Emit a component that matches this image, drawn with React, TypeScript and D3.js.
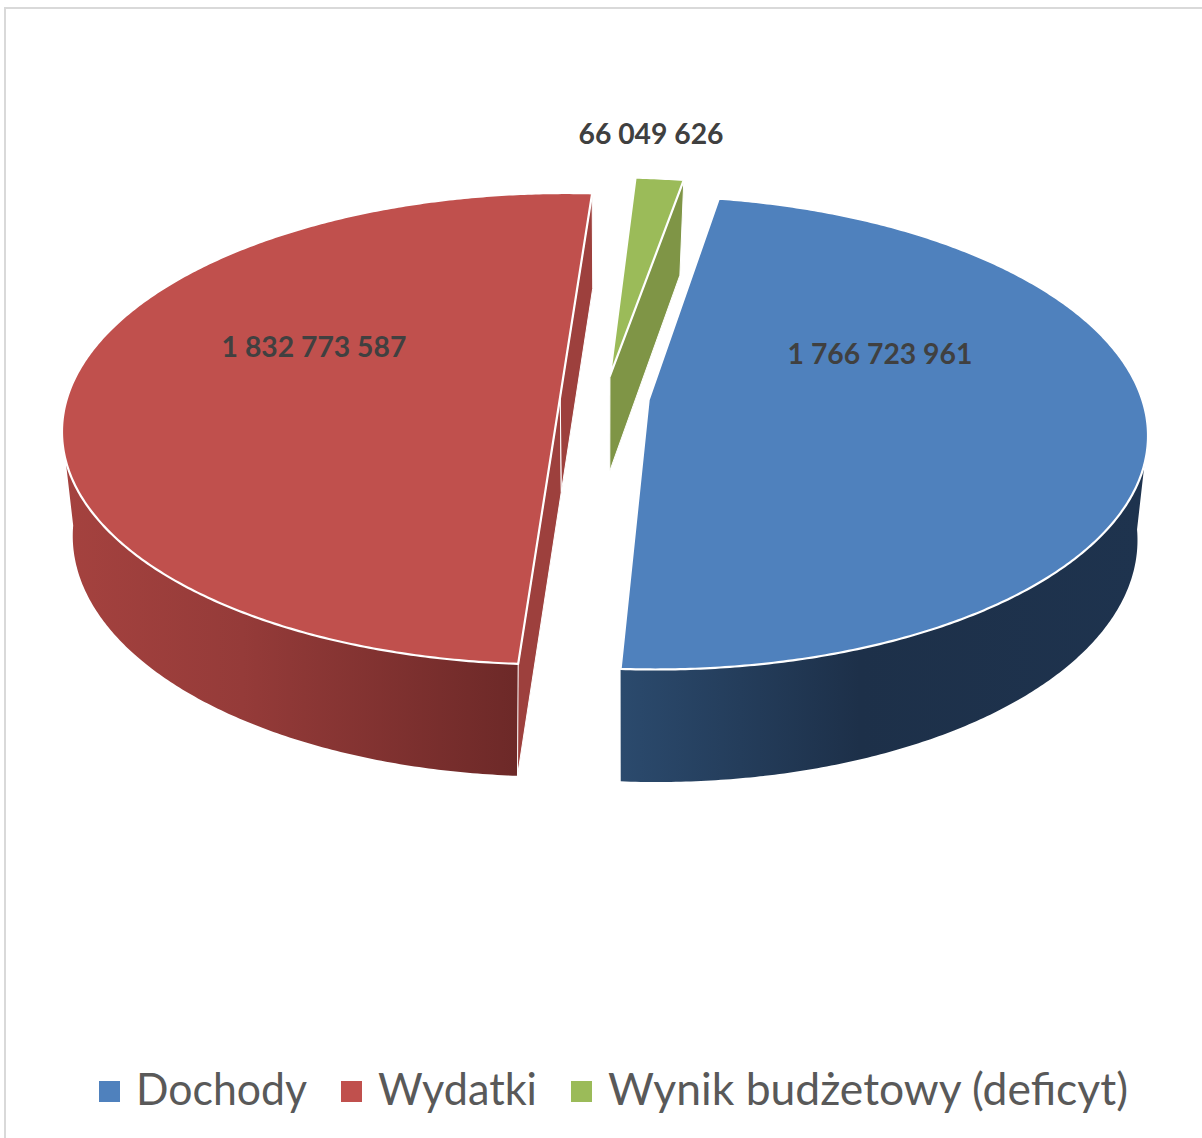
import * as d3 from 'd3';

const names = ['Dochody', 'Wydatki', 'Wynik budżetowy (deficyt)'];
const values = [1766723961, 1832773587, 66049626];
const valueLabels = ['1 766 723 961', '1 832 773 587', '66 049 626'];
const colors = ['#4f81bd', '#c0504d', '#9bbb59'];
const faceColors = ['#2b4a6d', '#9d403d', '#7f9546'];
const explodes = [0.09, 0.09, 0.095];
const legendX = [99, 341, 571];
const legendWidths = [171, 159, 520];

const W = 1202, H = 1138;
const deg = Math.PI / 180;
const vx = 604.5; // x of the vanishing axis
const startDeg = 10;

// one homography per plane of the disc
const topPlane = { cy: 397.5, R: 493, S: 231.6, k: 0.138 };
const botPlane = { cy: 493, R: 481, S: 238, k: 0.166 };
type Plane = typeof topPlane;
type Pt = [number, number];

function project(p: Plane, X: number, Y: number): Pt {
  const w = 1 + p.k * Y;
  return [vx + (p.R * X) / w, p.cy - (p.S * Y) / w];
}

const pie = d3.pie<number>().sort(null).startAngle(startDeg * deg).endAngle(startDeg * deg + 2 * Math.PI);
const arcs = pie(values);
const line = d3.line();

function sampleAngles(a0: number, a1: number) {
  const n = Math.max(2, Math.ceil((a1 - a0) / (0.5 * deg)));
  return d3.range(n + 1).map((i) => a0 + ((a1 - a0) * i) / n);
}

export default function App() {
  const slices = arcs.map((a, i) => {
    const mid = (a.startAngle + a.endAngle) / 2;
    const ox = explodes[i] * Math.sin(mid), oy = explodes[i] * Math.cos(mid);
    const at = (p: Plane, ang: number) => project(p, ox + Math.sin(ang), oy + Math.cos(ang));
    const apex = (p: Plane) => project(p, ox, oy);
    const angs = sampleAngles(a.startAngle, a.endAngle);
    const top = line([apex(topPlane), ...angs.map((t) => at(topPlane, t))])! + 'Z';
    // outer wall only on the part of the rim facing the viewer
    const w0 = Math.max(a.startAngle, 98 * deg), w1 = Math.min(a.endAngle, 262 * deg);
    let wall = '';
    if (w1 > w0) {
      const wa = sampleAngles(w0, w1);
      wall = line([...wa.map((t) => at(topPlane, t)), ...wa.slice().reverse().map((t) => at(botPlane, t))])! + 'Z';
    }
    const face = (ang: number) =>
      line([apex(topPlane), at(topPlane, ang), at(botPlane, ang), apex(botPlane)])! + 'Z';
    const faces = i === 1 ? [face(a.startAngle), face(a.endAngle)] : i === 2 ? [face(a.endAngle)] : [];
    return { top, wall, faces, i };
  });

  return (
    <svg width={W} height={H} viewBox={`0 0 ${W} ${H}`}
      style={{ position: 'absolute', left: 0, top: 0, background: '#fff', fontFamily: 'Lato, sans-serif' }}>
      <defs>
        <linearGradient id="wall0" gradientUnits="userSpaceOnUse" x1={621} x2={1140} y1={0} y2={0}>
          <stop offset="0" stopColor="#2b4a6d" />
          <stop offset="0.46" stopColor="#1d3049" />
          <stop offset="1" stopColor="#1e334e" />
        </linearGradient>
        <linearGradient id="wall1" gradientUnits="userSpaceOnUse" x1={60} x2={516} y1={0} y2={0}>
          <stop offset="0" stopColor="#a5423f" />
          <stop offset="0.4" stopColor="#953b39" />
          <stop offset="1" stopColor="#6d2928" />
        </linearGradient>
      </defs>
      <path d={`M5 ${H}V8H${W}`} fill="none" stroke="#d9d9d9" strokeWidth={2} />

      {slices.map((s) => (
        <g key={names[s.i]}>
          {s.wall && <path d={s.wall} fill={`url(#wall${s.i})`} />}
          {s.faces.map((d, j) => (
            <path key={j} d={d} fill={faceColors[s.i]} stroke="#fff" strokeWidth={1} strokeLinejoin="round" />
          ))}
          <path d={s.top} fill={colors[s.i]} stroke="#fff" strokeWidth={2.2} strokeLinejoin="round" />
        </g>
      ))}

      <g fontSize={28.3} fontWeight={700} fill="#404040" textAnchor="middle">
        <text x={880} y={364}>{valueLabels[0]}</text>
        <text x={314} y={357}>{valueLabels[1]}</text>
        <text x={651} y={144}>{valueLabels[2]}</text>
      </g>

      <g fontSize={44} fill="#595959">
        {legendX.map((x, i) => (
          <g key={names[i]}>
            <rect x={x} y={1081} width={21} height={21} fill={colors[i]} />
            <text x={x + 37} y={1105} textLength={legendWidths[i]} lengthAdjust="spacingAndGlyphs">{names[i]}</text>
          </g>
        ))}
      </g>
    </svg>
  );
}
